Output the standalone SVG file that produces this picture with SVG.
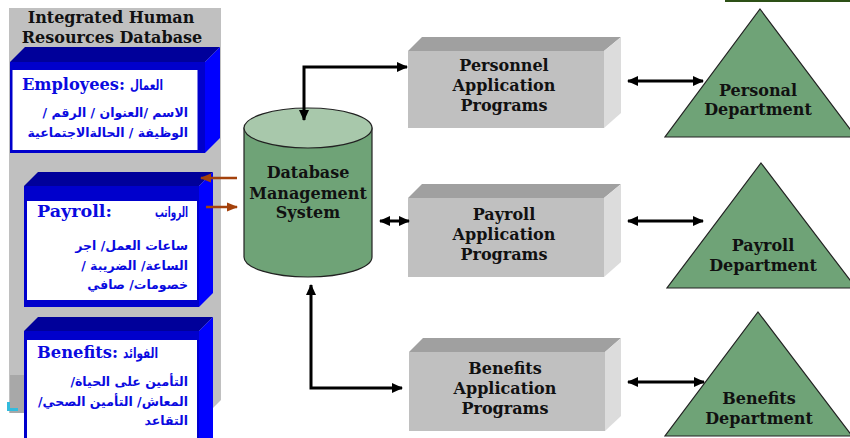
<svg xmlns="http://www.w3.org/2000/svg" width="850" height="438" viewBox="0 0 850 438">
<style>
.ser{font-family:"DejaVu Serif","Liberation Serif",serif;font-weight:bold;}
.lbl{font-size:16px;fill:#111;text-anchor:middle;}
.hdr{font-size:16px;fill:#111;}
.en{font-size:17px;fill:#0a0ae0;}
.ar{font-family:"DejaVu Sans",sans-serif;font-weight:bold;font-size:12.5px;fill:#0a0ae0;}
.arh{font-size:14px;}
.con{fill:none;stroke:#000;stroke-width:3;}
.brn{fill:none;stroke:#a4420c;stroke-width:2.5;}
.front{fill:#0000cc;}
.top{fill:#00009a;}
.side{fill:#0000ff;}
.inner{fill:#fff;}
.gf{fill:#c0c0c0;}
.gt{fill:#a0a0a0;}
.gs{fill:#dcdcdc;}
.tri{fill:#6fa377;stroke:#222;stroke-width:1.2;}
</style>
<defs>
<marker id="ah" markerUnits="userSpaceOnUse" markerWidth="12" markerHeight="12" viewBox="0 0 12 12" refX="10" refY="6" orient="auto-start-reverse">
<path d="M0,1 L11,6 L0,11 Z" fill="#000"/>
</marker>
<marker id="bh" markerUnits="userSpaceOnUse" markerWidth="12" markerHeight="12" viewBox="0 0 12 12" refX="10" refY="6" orient="auto">
<path d="M0,1.5 L11,6 L0,10.5 Z" fill="#a4420c"/>
</marker>
</defs>
<rect width="850" height="438" fill="#fff"/>
<line x1="725" y1="1" x2="850" y2="1" stroke="#2d5016" stroke-width="2"/>

<g id="hr-database">
<path d="M9,8 L221,8 L221,400 L208,413 L9,413 Z" fill="#c0c0c0"/>
<rect x="10" y="375" width="14" height="38" fill="#a8a8a8"/>
<path d="M7,402 L10,402 L10,408 L18,408 L18,411 L7,411 Z" fill="#33bbdd"/>
<text class="ser hdr" x="111" y="23" text-anchor="middle">Integrated Human</text>
<text class="ser hdr" x="112" y="43" text-anchor="middle">Resources Database</text>
</g>

<g id="employees">
<path class="top" d="M10,62 L25,47 L220,47 L205,62 Z"/>
<path class="side" d="M205,62 L220,47 L220,138 L205,153 Z"/>
<rect class="front" x="10" y="62" width="195" height="91"/>
<rect class="inner" x="12.5" y="70" width="185" height="80"/>
<text class="ser en" x="22" y="90" textLength="103" lengthAdjust="spacingAndGlyphs">Employees:</text>
<text class="ar arh" x="130" y="90" textLength="33" lengthAdjust="spacingAndGlyphs">العمال</text>
<text class="ar" x="188" y="117" direction="rtl" text-anchor="start">الاسم /العنوان / الرقم /</text>
<text class="ar" x="188" y="137" direction="rtl" text-anchor="start">الوظيفة / الحالةالاجتماعية</text>
</g>

<g id="payroll">
<path class="top" d="M24,186 L38,172 L213,172 L199,186 Z"/>
<path class="side" d="M199,186 L213,172 L213,293 L199,307 Z"/>
<rect class="front" x="24" y="186" width="175" height="121"/>
<rect class="inner" x="27" y="201" width="170" height="99"/>
<text class="ser en" x="37" y="217" textLength="75" lengthAdjust="spacingAndGlyphs">Payroll:</text>
<text class="ar arh" x="155" y="217" textLength="33" lengthAdjust="spacingAndGlyphs">الرواتب</text>
<text class="ar" x="188" y="250" direction="rtl" text-anchor="start">ساعات العمل/ اجر</text>
<text class="ar" x="188" y="270" direction="rtl" text-anchor="start">الساعة/ الضريبة /</text>
<text class="ar" x="188" y="289" direction="rtl" text-anchor="start">خصومات/ صافي</text>
</g>

<g id="benefits">
<path class="top" d="M24,331 L38,317 L213,317 L199,331 Z"/>
<path class="side" d="M199,331 L213,317 L213,438 L199,438 Z"/>
<rect class="front" x="24" y="331" width="175" height="107"/>
<rect class="inner" x="27" y="340" width="170" height="98"/>
<text class="ser en" x="37" y="358" textLength="81" lengthAdjust="spacingAndGlyphs">Benefits:</text>
<text class="ar arh" x="123" y="358" textLength="35" lengthAdjust="spacingAndGlyphs">الفوائد</text>
<text class="ar" x="188" y="386" direction="rtl" text-anchor="start">التأمين على الحياة/</text>
<text class="ar" x="188" y="406" direction="rtl" text-anchor="start">المعاش/ التأمين الصحي/</text>
<text class="ar" x="188" y="425" direction="rtl" text-anchor="start">التقاعد</text>
</g>

<g id="dbms">
<path d="M244,128 L244,257 A64,20 0 0 0 372,257 L372,128 Z" fill="#6fa377" stroke="#222" stroke-width="1.2"/>
<ellipse cx="308" cy="128" rx="64" ry="20" fill="#a8c8ab" stroke="#222" stroke-width="1.2"/>
<text class="ser lbl" x="308" y="178">Database</text>
<text class="ser lbl" x="308" y="199">Management</text>
<text class="ser lbl" x="308" y="218">System</text>
</g>

<g id="personnel-app">
<path class="gt" d="M408,51 L422,37 L621,37 L604,51 Z"/>
<path class="gs" d="M604,51 L621,37 L621,113 L604,128 Z"/>
<rect class="gf" x="408" y="51" width="196" height="77"/>
<text class="ser lbl" x="504" y="71">Personnel</text>
<text class="ser lbl" x="504" y="91">Application</text>
<text class="ser lbl" x="504" y="111">Programs</text>
</g>

<g id="payroll-app">
<path class="gt" d="M408,198 L422,184 L621,184 L604,198 Z"/>
<path class="gs" d="M604,198 L621,184 L621,262 L604,277 Z"/>
<rect class="gf" x="408" y="198" width="196" height="79"/>
<text class="ser lbl" x="504" y="220">Payroll</text>
<text class="ser lbl" x="504" y="240">Application</text>
<text class="ser lbl" x="504" y="260">Programs</text>
</g>

<g id="benefits-app">
<path class="gt" d="M409,352 L423,338 L621,338 L605,352 Z"/>
<path class="gs" d="M605,352 L621,338 L621,416 L605,431 Z"/>
<rect class="gf" x="409" y="352" width="196" height="79"/>
<text class="ser lbl" x="505" y="374">Benefits</text>
<text class="ser lbl" x="505" y="394">Application</text>
<text class="ser lbl" x="505" y="414">Programs</text>
</g>

<g id="personal-dept">
<path class="tri" d="M760,9 L856,137 L665,137 Z"/>
<text class="ser lbl" x="758" y="96">Personal</text>
<text class="ser lbl" x="758" y="115">Department</text>
</g>

<g id="payroll-dept">
<path class="tri" d="M761,163 L856,288 L667,288 Z"/>
<text class="ser lbl" x="763" y="251">Payroll</text>
<text class="ser lbl" x="763" y="271">Department</text>
</g>

<g id="benefits-dept">
<path class="tri" d="M758,312 L852,436 L665,436 Z"/>
<text class="ser lbl" x="759" y="404">Benefits</text>
<text class="ser lbl" x="759" y="424">Department</text>
</g>

<g id="connectors">
<path class="con" d="M304,120 L304,67 L407,67" marker-start="url(#ah)" marker-end="url(#ah)"/>
<path class="con" d="M380,221 L409,221" marker-start="url(#ah)" marker-end="url(#ah)"/>
<path class="con" d="M311,285 L311,388 L402,388" marker-start="url(#ah)" marker-end="url(#ah)"/>
<path class="con" d="M628,81 L703,81" marker-start="url(#ah)" marker-end="url(#ah)"/>
<path class="con" d="M628,221 L703,221" marker-start="url(#ah)" marker-end="url(#ah)"/>
<path class="con" d="M628,382 L704,382" marker-start="url(#ah)" marker-end="url(#ah)"/>
<path class="brn" d="M237,178 L201,178" marker-end="url(#bh)"/>
<path class="brn" d="M206,207 L237,207" marker-end="url(#bh)"/>
</g>
</svg>
